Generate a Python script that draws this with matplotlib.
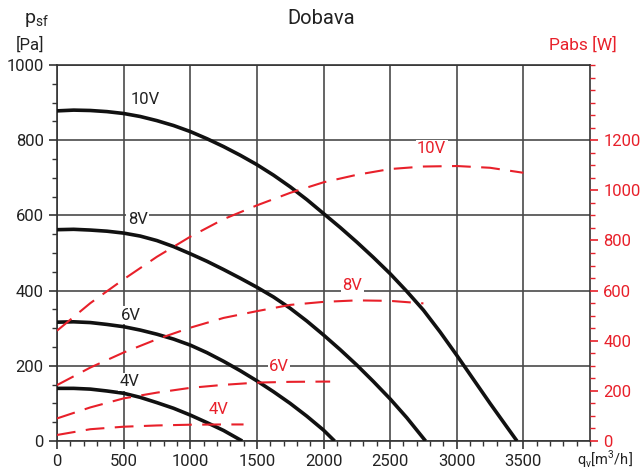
import matplotlib
matplotlib.use("Agg")
import matplotlib.pyplot as plt
from matplotlib.ticker import MultipleLocator

# ---- data ----
speeds = ["10V", "8V", "6V", "4V"]

# pressure curves (left axis, Pa)
q_p10 = [0, 125, 250, 375, 500, 625, 750, 875, 1000, 1125, 1250, 1375, 1500, 1625, 1750, 1875,
         2000, 2125, 2250, 2375, 2500, 2625, 2750, 2875, 3000, 3125, 3250, 3375, 3452]
p_10 = [878, 880, 879, 876, 871, 863, 852, 839, 823, 804, 783, 760, 735, 707, 676, 642,
        605, 568, 529, 488, 445, 398, 348, 290, 228, 164, 100, 38, 0]
q_p8 = [0, 125, 250, 375, 500, 625, 750, 875, 1000, 1125, 1250, 1375, 1500, 1625, 1750, 1875,
        2000, 2125, 2250, 2375, 2500, 2625, 2766]
p_8 = [562, 563, 561, 558, 553, 545, 533, 517, 498, 478, 456, 433, 409, 383, 353, 319,
       282, 243, 202, 158, 112, 62, 0]
q_p6 = [0, 125, 250, 375, 500, 625, 750, 875, 1000, 1125, 1250, 1375, 1500, 1625, 1750, 1875, 2000, 2083]
p_6 = [316, 317, 315, 310, 304, 295, 284, 271, 255, 235, 212, 187, 160, 131, 100, 66, 29, 0]
q_p4 = [0, 125, 250, 375, 500, 625, 750, 875, 1000, 1125, 1250, 1390]
p_4 = [140, 140, 138, 133, 127, 116, 102, 87, 69, 49, 28, 0]

# power curves (right axis, W)
q_w10 = [0, 250, 500, 750, 1000, 1250, 1500, 1750, 2000, 2250, 2500, 2750, 3000, 3250, 3500]
w_10 = [440, 550, 645, 735, 815, 885, 940, 990, 1032, 1062, 1085, 1095, 1097, 1090, 1070]
q_w8 = [0, 250, 500, 750, 1000, 1250, 1500, 1750, 2000, 2250, 2500, 2750]
w_8 = [223, 293, 353, 406, 452, 491, 518, 543, 555, 561, 559, 549]
q_w6 = [0, 250, 500, 750, 1000, 1250, 1500, 1750, 2000, 2050]
w_6 = [90, 134, 170, 193, 212, 224, 233, 236, 237, 237]
q_w4 = [0, 250, 500, 750, 1000, 1250, 1400]
w_4 = [24, 47, 57, 62, 65, 66, 66]

x_ticks = [0, 500, 1000, 1500, 2000, 2500, 3000, 3500]
yl_ticks = [0, 200, 400, 600, 800, 1000]
yr_ticks = [0, 200, 400, 600, 800, 1000, 1200]

RED = "#e8202a"
GRID = "#4a4a4a"
FONT = "Roboto"

plt.rcParams["font.family"] = [FONT, "DejaVu Sans"]

fig = plt.figure(figsize=(6.43, 4.69), dpi=100)
ax = fig.add_axes([57/643, 1-441/469, (590-57)/643, (441-65)/469])
ax2 = ax.twinx()

ax.set_xlim(0, 4000)
ax.set_ylim(0, 1000)
ax2.set_ylim(0, 1500)

ax.set_xticks(x_ticks)
ax.set_yticks(yl_ticks)
ax2.set_yticks(yr_ticks)
ax.xaxis.set_minor_locator(MultipleLocator(100))
ax.yaxis.set_minor_locator(MultipleLocator(50))
ax2.yaxis.set_minor_locator(MultipleLocator(50))

ax.grid(True, which="major", color=GRID, lw=1.2, zorder=0)
ax.set_axisbelow(True)
for s in ["top", "right", "left", "bottom"]:
    ax.spines[s].set_color("#333333")
    ax.spines[s].set_linewidth(1.2)
for s in ["top", "right", "left", "bottom"]:
    ax2.spines[s].set_visible(False)

ax.tick_params(axis="both", which="major", direction="out", length=6, width=1.2,
               color="#333333", labelsize=12, labelcolor="#222222")
ax.tick_params(axis="both", which="minor", direction="out", length=3.5, width=1.0, color="#333333")
ax2.tick_params(axis="y", which="major", direction="out", length=6, width=1.2,
                color=RED, labelsize=12, labelcolor=RED)
ax2.tick_params(axis="y", which="minor", direction="out", length=3.5, width=1.0, color=RED)

# pressure curves
for q, p in [(q_p10, p_10), (q_p8, p_8), (q_p6, p_6), (q_p4, p_4)]:
    ax.plot(q, p, color="#111111", lw=2.6, solid_capstyle="butt", solid_joinstyle="round", zorder=3)

# power curves
for q, w in [(q_w10, w_10), (q_w8, w_8), (q_w6, w_6), (q_w4, w_4)]:
    ax2.plot(q, w, color=RED, lw=1.5, dashes=(9, 5), zorder=3)

bb = dict(facecolor="white", edgecolor="none", pad=1.0)
# black labels (left axis coords)
black_lbl = [(665, 908), (605, 590), (556, 335), (541, 157)]
for s, (x, y) in zip(speeds, black_lbl):
    ax.text(x, y, s, ha="center", va="center", fontsize=12, color="#222222",
            bbox=bb, zorder=4)
# red labels (right axis coords)
red_lbl = [(2812, 1165), (2218, 622), (1666, 296), (1211, 126)]
for s, (x, y) in zip(speeds, red_lbl):
    ax2.text(x, y, s, ha="center", va="center", fontsize=12, color=RED,
             bbox=bb, zorder=4)

fig.text(321/643, 1-18/469, "Dobava", ha="center", va="center", fontsize=14.5, color="#222222")
fig.text(36/643, 1-20/469, r"p$_{\mathregular{sf}}$", ha="center", va="center", fontsize=14, color="#222222")
fig.text(30/643, 1-45/469, "[Pa]", ha="center", va="center", fontsize=12, color="#222222")
fig.text(583/643, 1-45/469, "Pabs [W]", ha="center", va="center", fontsize=12.5, color=RED)
fig.text(577/643, 1-465/469, r"q$_{\mathregular{v}}$[m$^{\mathregular{3}}$/h]", ha="left", va="baseline",
         fontsize=10.5, color="#222222")

fig.savefig("out.png", dpi=100)
